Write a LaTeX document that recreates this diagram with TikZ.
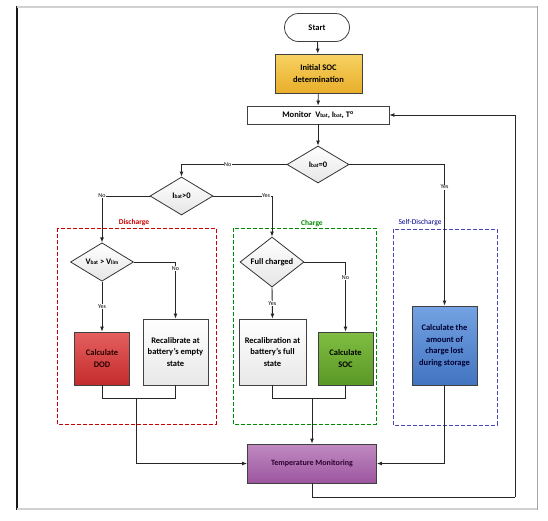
\documentclass[tikz,border=0pt]{standalone}
\usepackage{fontspec}
\setmainfont{Carlito}
\usetikzlibrary{shapes.geometric,arrows.meta}

\definecolor{goldtop}{HTML}{F7D262}
\definecolor{goldbot}{HTML}{E8AE2A}
\definecolor{redtop}{HTML}{E56060}
\definecolor{redbot}{HTML}{C42B2B}
\definecolor{greentop}{HTML}{80BD42}
\definecolor{greenbot}{HTML}{5A9826}
\definecolor{bluetop}{HTML}{74A2E2}
\definecolor{bluebot}{HTML}{4274C0}
\definecolor{purptop}{HTML}{C08AC2}
\definecolor{purpbot}{HTML}{9C569E}
\newcommand{\bsub}[1]{{\fontsize{5.5}{6}\selectfont #1}}

\begin{document}
\begin{tikzpicture}[x=1pt,y=-1pt]
\tikzset{box/.style={draw=black!75, line width=0.8pt, align=center, inner sep=1pt, font=\fontsize{8.5}{11.5}\selectfont\bfseries},
  dec/.style={diamond, draw=black!80, line width=0.8pt, inner sep=0pt, top color=white, bottom color=black!10, font=\fontsize{8.5}{10}\selectfont\bfseries},
  lbl/.style={fill=white, inner sep=0.5pt, font=\fontsize{6}{7}\selectfont},
  flow/.style={draw=black!85, line width=0.9pt},
  arr/.style={flow, -{Latex[length=5pt,width=4pt]}},
  group/.style={line width=1pt, dash pattern=on 4pt off 2pt}}
\useasboundingbox (0,0) rectangle (548,520);

% frame
\draw[black!90, line width=1.2pt] (17,6) -- (17,510);
\draw[black!18, line width=2pt] (17,6.5) -- (537,6.5);
\draw[black!18, line width=2.5pt] (17,509) -- (537,509);
\draw[black!35, line width=0.8pt] (537,6) -- (537,510);

% groups
\draw[group, red!80!black] (57,228) rectangle (216,424);
\draw[group, green!55!black] (233,228) rectangle (376,424);
\draw[group, blue!45!gray] (393,229) rectangle (497,425);
\node[font=\fontsize{7.5}{9}\selectfont\bfseries, text=red!80!black] (discharge) at (134,222) {Discharge};
\node[font=\fontsize{7.5}{9}\selectfont\bfseries, text=green!55!black] (charge) at (312,223) {Charge};
\node[font=\fontsize{7.5}{9}\selectfont, text=blue!55!black] (selfdis) at (420,223) {Self-Discharge};

% nodes
\node[box, rounded corners=14pt, fill=white, minimum width=65pt, minimum height=28pt] (start) at (317,27.5) {Start};
\node[box, top color=goldtop, bottom color=goldbot, minimum width=87pt, minimum height=39pt] (init) at (318.5,73.5) {Initial SOC\\determination};
\node[box, fill=white, minimum width=142pt, minimum height=18pt] (monitor) at (318,115) {Monitor\ \ V\bsub{bat}, I\bsub{bat}, T\textsuperscript{o}};
\node[dec, minimum width=62pt, minimum height=37pt] (zero) at (318,164.5) {I\bsub{bat}=0};
\node[dec, minimum width=63pt, minimum height=38pt] (pos) at (181.5,196) {I\bsub{bat}>0};
\node[dec, minimum width=63pt, minimum height=38pt] (vlim) at (102,262) {V\bsub{bat} > V\bsub{lim}};
\node[dec, minimum width=64pt, minimum height=38pt] (full) at (272,262) {Full charged};
\node[box, top color=redtop, bottom color=redbot, text=black!85!red, minimum width=55pt, minimum height=53pt] (dod) at (102,358.5) {Calculate\\DOD};
\node[box, top color=white, bottom color=black!9, minimum width=65pt, minimum height=66pt] (empty) at (175.5,352) {Recalibrate at\\battery's empty\\state};
\node[box, top color=white, bottom color=black!9, minimum width=67pt, minimum height=66pt] (fullcal) at (272.5,352) {Recalibration at\\battery's full\\state};
\node[box, top color=greentop, bottom color=greenbot, minimum width=55pt, minimum height=53pt] (soc) at (345.5,358.5) {Calculate\\SOC};
\node[box, top color=bluetop, bottom color=bluebot, text=blue!20!black, minimum width=65pt, minimum height=79pt] (lost) at (444.5,345.5) {Calculate the\\amount of\\charge lost\\during storage};
\node[box, font=\fontsize{8}{10}\selectfont\bfseries, text=violet!35!black, top color=purptop, bottom color=purpbot, minimum width=129pt, minimum height=39pt] (temp) at (312,463.5) {Temperature Monitoring};

\coordinate (dj) at (136,398);
\coordinate (cj) at (312,398);
\coordinate (fb) at (515,497);

% connectors
\draw[arr] (start) -- (init);
\draw[arr] (init) -- (monitor);
\draw[arr] (monitor) -- (zero);
\draw[arr] (zero.west) -| node[lbl, pos=0.28] {No} (pos.north);
\draw[arr] (pos.west) -| node[lbl, pos=0.5] {No} (vlim.north);
\draw[arr] (pos.east) -| node[lbl, pos=0.45] {Yes} (full.north);
\draw[arr] (zero.east) -| node[lbl, pos=0.58] {Yes} (lost.north);
\draw[arr] (vlim.east) -| node[lbl, pos=0.56] {No} (empty.north);
\draw[arr] (vlim.south) -- node[lbl, pos=0.49] {Yes} (dod.north);
\draw[arr] (full.south) -- node[lbl, pos=0.53] {Yes} (fullcal.north);
\draw[arr] (full.east) -| node[lbl, pos=0.61] {No} (soc.north);
\draw[flow] (dod.south) |- (dj);
\draw[flow] (empty.south) |- (dj);
\draw[arr] (dj) |- (temp.west);
\draw[flow] (fullcal.south) |- (cj);
\draw[flow] (soc.south) |- (cj);
\draw[arr] (cj) -- (temp.north);
\draw[arr] (lost.south) |- (temp.east);
\draw[flow] (temp.south) |- (fb);
\draw[arr] (fb) |- (monitor.east);
\end{tikzpicture}
\end{document}
